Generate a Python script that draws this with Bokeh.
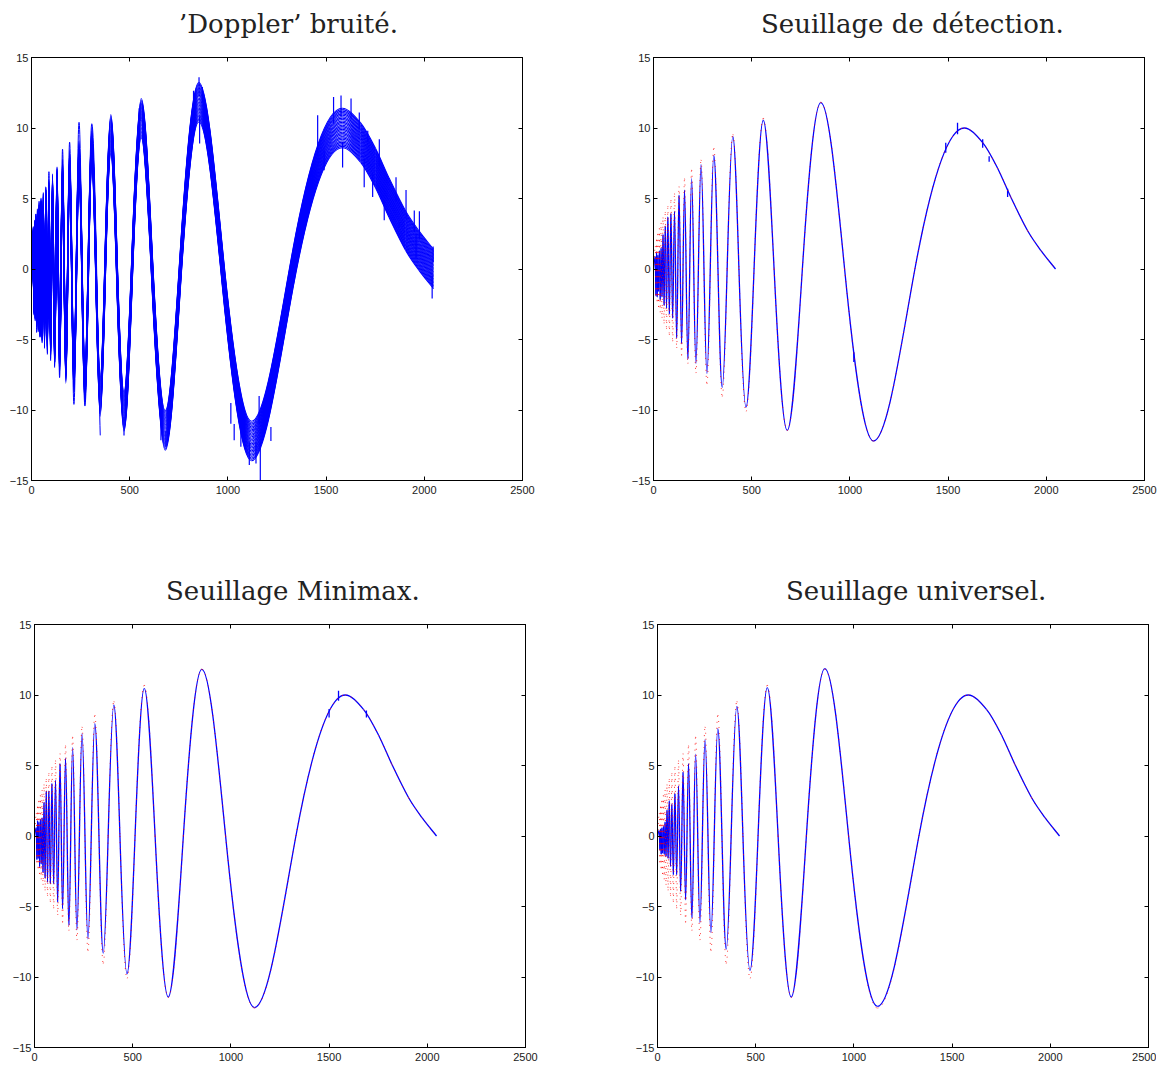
import math
from bokeh.plotting import figure
from bokeh.layouts import row, column
from bokeh.models import LinearAxis, FixedTicker, Range1d, Div
from bokeh.embed import file_html
from bokeh.resources import INLINE

# ---------------- data ----------------
titles = ["\u2019Doppler\u2019 bruit\u00e9.", "Seuillage de d\u00e9tection.",
          "Seuillage Minimax.", "Seuillage universel."]

x_ticks = [0, 500, 1000, 1500, 2000, 2500]
y_ticks = [-15, -10, -5, 0, 5, 10, 15]
y_tick_labels = {-15: "\u221215", -10: "\u221210", -5: "\u22125", 0: "0", 5: "5", 10: "10", 15: "15"}

# sample index of extrema / zero crossings / tail points of the signal
knot_x = [0, 9.3, 12.3, 15.4, 18.7, 22.3, 26.0, 29.9, 34.1, 38.6, 43.4, 48.5, 54.0, 59.9,
          66.3, 73.1, 80.6, 88.7, 97.6, 107, 118, 130, 143, 158, 175, 194, 216, 242, 272,
          307, 350, 375, 404, 435, 471, 512, 559, 614, 681, 758, 852, 973, 1120, 1331,
          1582, 1676, 1752, 1820, 1905, 1973, 2047]

# true Doppler signal (red dotted)
true_y = [0, 1.62, -1.86, 2.08, -2.29, 2.49, -2.69, 2.88, -3.07, 3.26, -3.46, 3.65, -3.85,
          4.04, -4.25, 4.45, -4.67, 4.89, -5.12, 5.35, -5.6, 5.85, -6.12, 6.41, -6.71, 7.03,
          -7.38, 7.74, -8.14, 8.57, -9.04, 0, 9.55, 0, -10.1, 0, 10.69, 0, -11.45, 0, 11.83,
          0, -12.2, 0, 10.0, 8.96, 7.15, 5.07, 2.71, 1.3, 0]

# noisy signal: visible tips of the high-frequency oscillations
noisy_tip_y = [0, 2.1, -3.0, 2.5, -3.5, 3.9, -4.5, 3.0, -3.8, 4.8, -4.8, 4.8, -3.5, 4.2,
               -4.8, 5.6, -3.9, 6.9, -4.4, 6.0, -6.6, 6.5, -7.7, 8.5, -7.43, 9.0, -9.6,
               10.4, -9.72, 10.3, -11.8]
# vertical spread of the noise around the signal
noise_band = [-1.4, -1.3, -1.2, -1.1, -1.0, -0.9, -0.8, -0.7, -0.6, -0.5, -0.4, -0.3, -0.2,
              -0.1, 0.0, 0.1, 0.2, 0.3, 0.4, 0.5, 0.6, 0.7, 0.8, 0.9, 1.0, 1.1, 1.2, 1.3, 1.4]
spike_x = [825, 853, 870, 856, 548, 557, 471, 1457, 1490, 1538, 1576, 1584, 1627, 1669,
           1694, 1712, 1737, 1771, 1796, 1856, 1872, 1907, 1949, 1958, 1975,
           1015, 1032, 1066, 1109, 1143, 1165, 1185, 1159, 1219, 659, 684, 701, 913,
           2040, 2045]
spike_y0 = [11.5, 12.3, 11.8, 10.8, 10.3, 10.5, -10.5, 8.0, 7.0, 10.3, 10.8, 9.0, 10.6, 9.9,
            7.8, 9.0, 6.7, 7.3, 4.9, 4.8, 2.9, 3.5, 2.6, 0.8, 2.1,
            -9.5, -11.0, -11.5, -12.3, -12.3, -12.3, -11.2, -11.0, -11.2, -10.5, -11.5, -11.0, 7.6,
            -0.5, 0.5]
spike_y1 = [12.65, 13.6, 12.9, 8.9, 11.4, 11.8, -11.8, 10.9, 8.4, 12.2, 12.3, 7.2, 12.1, 11.1,
            5.8, 9.8, 5.1, 9.2, 3.45, 6.5, 3.33, 5.6, 4.15, 2.5, 4.1,
            -10.97, -12.15, -12.6, -13.9, -13.8, -15.0, -9.8, -9.0, -12.2, -12.15, -12.6, -11.7, 6.75,
            -2.1, 1.6]

# denoised signals (blue)
detect_y = [0, 0.9, -1.9, 1.2, -2.0, 1.0, -1.6, 1.3, -2.2, 1.5, -2.0, 2.45, -2.6, 3.05, -2.8,
            3.7, -3.2, 3.95, -3.5, 4.1, -4.9, 5.25, -5.3, 5.6, -6.4, 6.4, -6.7, 7.4, -7.4,
            8.05, -8.4, 0, 9.4, 0, -9.8, 0, 10.55, 0, -11.45, 0, 11.8, 0, -12.2, 0, 10.0,
            8.96, 7.15, 5.07, 2.71, 1.3, 0]
minimax_y = [0, 0.6, -1.7, 1.1, -1.6, 1.0, -2.2, 1.2, -2.0, 1.3, -2.6, 2.4, -3.0, 3.2, -3.3,
             3.2, -3.4, 3.73, -3.4, 3.96, -4.7, 5.14, -5.17, 5.52, -6.35, 6.27, -6.65, 7.26,
             -7.29, 7.97, -8.31, 0, 9.29, 0, -9.77, 0, 10.47, 0, -11.42, 0, 11.82, 0, -12.17,
             0, 10.0, 8.96, 7.15, 5.07, 2.71, 1.3, 0]
universal_y = [0, 0.4, -1.0, 0.5, -1.3, 0.6, -1.23, 0.7, -1.3, 1.0, -1.46, 1.85, -1.6, 2.5,
               -2.17, 2.27, -2.76, 3.02, -2.76, 3.56, -3.94, 4.55, -4.53, 5.14, -5.83, 5.8,
               -6.13, 6.84, -6.84, 7.62, -8.02, 0, 9.2, 0, -9.53, 0, 10.52, 0, -11.42, 0,
               11.87, 0, -12.08, 0, 10.0, 8.96, 7.15, 5.07, 2.71, 1.3, 0]

# small artefacts left on the denoised curves
detect_glitch_x = [1488, 1548, 1676, 1709, 1803, 1020]
detect_glitch_y0 = [8.96, 10.37, 9.2, 8.0, 5.7, -5.9]
detect_glitch_y1 = [8.25, 9.55, 8.6, 7.6, 5.1, -6.6]
minimax_glitch_x = [1548, 1500, 1690]
minimax_glitch_y0 = [10.3, 9.0, 8.9]
minimax_glitch_y1 = [9.6, 8.4, 8.4]

BLUE = "#0000ff"
RED = "#ff0000"


# ---------------- smooth curve through knots, drawn by Bokeh's bezier glyph ----------------
def bezier_source(xs, ys, off=0.0):
    n = len(xs)
    ext = [False] * n
    for i in range(1, n - 1):
        if (ys[i] - ys[i - 1]) * (ys[i + 1] - ys[i]) <= 0:
            ext[i] = True
    m = []
    for i in range(n):
        if ext[i]:
            m.append(0.0)
        elif i == 0:
            m.append((ys[1] - ys[0]) / (xs[1] - xs[0]))
        elif i == n - 1:
            m.append((ys[-1] - ys[-2]) / (xs[-1] - xs[-2]))
        else:
            s = (ys[i + 1] - ys[i - 1]) / (xs[i + 1] - xs[i - 1])
            if ext[i - 1] and ext[i + 1]:
                s *= math.pi / 2
            m.append(s)
    d = dict(x0=[], y0=[], x1=[], y1=[], cx0=[], cy0=[], cx1=[], cy1=[])
    for i in range(n - 1):
        h = xs[i + 1] - xs[i]
        c = 0.3634 if (m[i] == 0 and m[i + 1] == 0) else 1.0 / 3.0
        d["x0"].append(xs[i]); d["y0"].append(ys[i] + off)
        d["x1"].append(xs[i + 1]); d["y1"].append(ys[i + 1] + off)
        d["cx0"].append(xs[i] + c * h); d["cy0"].append(ys[i] + off + m[i] * c * h)
        d["cx1"].append(xs[i + 1] - c * h); d["cy1"].append(ys[i + 1] + off - m[i + 1] * c * h)
    return d


def curve(p, xs, ys, off=0.0, **kw):
    d = bezier_source(xs, ys, off)
    p.bezier(x0="x0", y0="y0", x1="x1", y1="y1", cx0="cx0", cy0="cy0", cx1="cx1", cy1="cy1",
             source=d, **kw)


def style_axis(ax, ticks, show_labels, standoff=3, overrides=None):
    ax.ticker = FixedTicker(ticks=ticks)
    ax.major_tick_in = 4
    ax.major_tick_out = 0
    ax.minor_tick_line_color = None
    ax.axis_line_color = "black"
    ax.major_tick_line_color = "black"
    ax.axis_line_width = 1
    ax.major_label_standoff = standoff
    if show_labels:
        ax.major_label_text_font = "Liberation Sans"
        ax.major_label_text_font_size = "11px"
        ax.major_label_text_color = "#1a1a1a"
        if overrides:
            ax.major_label_overrides = overrides
    else:
        ax.major_label_overrides = {t: "" for t in ticks}
        ax.major_label_text_font_size = "0px"
        ax.major_label_text_color = None


def make_panel(bl, bt, br, bb):
    p = figure(frame_width=491, frame_height=423, x_range=Range1d(0, 2500),
               y_range=Range1d(-15, 15), output_backend="svg", toolbar_location=None,
               min_border_left=bl, min_border_top=bt, min_border_right=br,
               min_border_bottom=bb, background_fill_color="white",
               border_fill_color="white")
    p.grid.visible = False
    p.outline_line_color = "black"
    style_axis(p.xaxis[0], x_ticks, True, standoff=5)
    style_axis(p.yaxis[0], y_ticks, True, standoff=3, overrides=y_tick_labels)
    top = LinearAxis()
    style_axis(top, x_ticks, False, standoff=0)
    right = LinearAxis()
    style_axis(right, y_ticks, False, standoff=0)
    p.add_layout(top, "above")
    p.add_layout(right, "right")
    return p


def make_title(text, width, pad_left):
    return Div(text=text, width=width, height=40, margin=0,
               styles={"font-family": "DejaVu Serif", "font-size": "26px",
                       "color": "#222222", "line-height": "30px", "white-space": "nowrap",
                       "padding-top": "9px", "padding-left": f"{pad_left}px",
                       "box-sizing": "border-box"})


f1 = make_panel(31, 17, 106, 87)
f2 = make_panel(25, 17, 20, 87)
f3 = make_panel(34, 17, 105, 18)
f4 = make_panel(27, 17, 8, 18)

# panel 1: noisy signal
for off in noise_band:
    curve(f1, knot_x, true_y, off, line_color=BLUE, line_width=1.1)
curve(f1, knot_x[:len(noisy_tip_y)], noisy_tip_y, 0.0, line_color=BLUE, line_width=1)
f1.segment(x0=spike_x, y0=spike_y0, x1=spike_x, y1=spike_y1, line_color=BLUE, line_width=1.2)

# panels 2-4: denoised (blue) with the true signal (red dotted) on top
for p, ys in ((f2, detect_y), (f3, minimax_y), (f4, universal_y)):
    curve(p, knot_x, ys, 0.0, line_color=BLUE, line_width=1.3)
f2.segment(x0=detect_glitch_x, y0=detect_glitch_y0, x1=detect_glitch_x, y1=detect_glitch_y1,
           line_color=BLUE, line_width=1.3)
f3.segment(x0=minimax_glitch_x, y0=minimax_glitch_y0, x1=minimax_glitch_x, y1=minimax_glitch_y1,
           line_color=BLUE, line_width=1.3)
for p in (f2, f3, f4):
    curve(p, knot_x, true_y, 0.0, line_color=RED, line_width=1, line_dash="1 5", line_alpha=0.8)

t1 = make_title(titles[0], 628, 179)
t2 = make_title(titles[1], 536, 133)
t3 = make_title(titles[2], 630, 166)
t4 = make_title(titles[3], 526, 156)

layout = column(row(column(t1, f1), column(t2, f2)), row(column(t3, f3), column(t4, f4)))
open("out.html", "w").write(file_html(layout, INLINE))
